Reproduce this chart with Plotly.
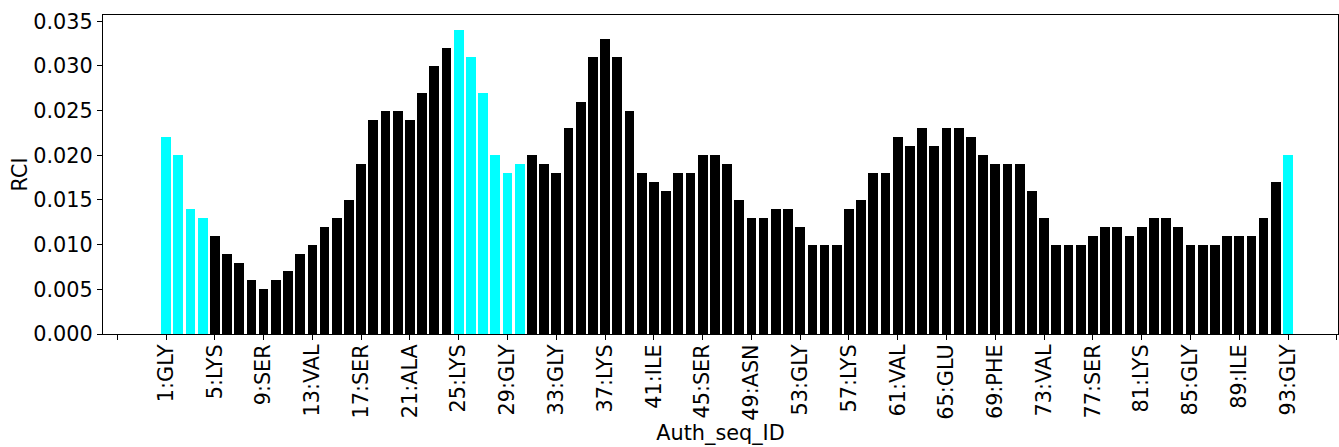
import plotly.graph_objects as go

# Residue numbers and RCI values
residues = list(range(1, 94))
rci = [0.022, 0.020, 0.014, 0.013, 0.011, 0.009, 0.008, 0.006, 0.005, 0.006,
       0.007, 0.009, 0.010, 0.012, 0.013, 0.015, 0.019, 0.024, 0.025, 0.025,
       0.024, 0.027, 0.030, 0.032, 0.034, 0.031, 0.027, 0.020, 0.018, 0.019,
       0.020, 0.019, 0.018, 0.023, 0.026, 0.031, 0.033, 0.031, 0.025, 0.018,
       0.017, 0.016, 0.018, 0.018, 0.020, 0.020, 0.019, 0.015, 0.013, 0.013,
       0.014, 0.014, 0.012, 0.010, 0.010, 0.010, 0.014, 0.015, 0.018, 0.018,
       0.022, 0.021, 0.023, 0.021, 0.023, 0.023, 0.022, 0.020, 0.019, 0.019,
       0.019, 0.016, 0.013, 0.010, 0.010, 0.010, 0.011, 0.012, 0.012, 0.011,
       0.012, 0.013, 0.013, 0.012, 0.010, 0.010, 0.010, 0.011, 0.011, 0.011,
       0.013, 0.017, 0.020]
highlighted = [1, 2, 3, 4, 25, 26, 27, 28, 29, 30, 93]

# Tick labels
tick_positions = [-3, 1, 5, 9, 13, 17, 21, 25, 29, 33, 37, 41, 45, 49, 53, 57,
                  61, 65, 69, 73, 77, 81, 85, 89, 93, 97]
tick_labels = ["", "1:GLY", "5:LYS", "9:SER", "13:VAL", "17:SER", "21:ALA",
               "25:LYS", "29:GLY", "33:GLY", "37:LYS", "41:ILE", "45:SER",
               "49:ASN", "53:GLY", "57:LYS", "61:VAL", "65:GLU", "69:PHE",
               "73:VAL", "77:SER", "81:LYS", "85:GLY", "89:ILE", "93:GLY", ""]
y_ticks = [0.000, 0.005, 0.010, 0.015, 0.020, 0.025, 0.030, 0.035]

colors = ["#00FFFF" if r in highlighted else "#000000" for r in residues]

fig = go.Figure(go.Bar(
    x=residues, y=rci, width=0.8,
    marker=dict(color=colors, line=dict(width=0)),
))

FS = 20.8
fig.update_layout(
    width=1339, height=447,
    margin=dict(l=103, r=1, t=15, b=113),
    paper_bgcolor="white", plot_bgcolor="white",
    font=dict(family="DejaVu Sans", size=FS, color="black"),
    showlegend=False,
    bargap=0,
)
fig.update_xaxes(
    range=[-4.17, 97.1],
    tickmode="array", tickvals=tick_positions, ticktext=tick_labels,
    tickangle=-90, ticklabelstandoff=-4,
    ticks="outside", ticklen=5, tickwidth=1, tickcolor="black",
    showgrid=False, zeroline=False,
    showline=True, linecolor="black", linewidth=1, mirror=True,
    title=dict(text="Auth_seq_ID", font=dict(size=FS), standoff=0),
    automargin=False,
)
fig.update_yaxes(
    range=[0, 0.0357],
    tickmode="array", tickvals=y_ticks,
    ticktext=[f"{v:.3f}" for v in y_ticks],
    ticks="outside", ticklen=5, tickwidth=1, tickcolor="black",
    showgrid=False, zeroline=False,
    showline=True, linecolor="black", linewidth=1, mirror=True,
    title=dict(text="RCI", font=dict(size=FS), standoff=0),
    automargin=False,
)

fig.write_html("out.html", config={"displayModeBar": False},
               post_script="document.body.style.margin='0';")
